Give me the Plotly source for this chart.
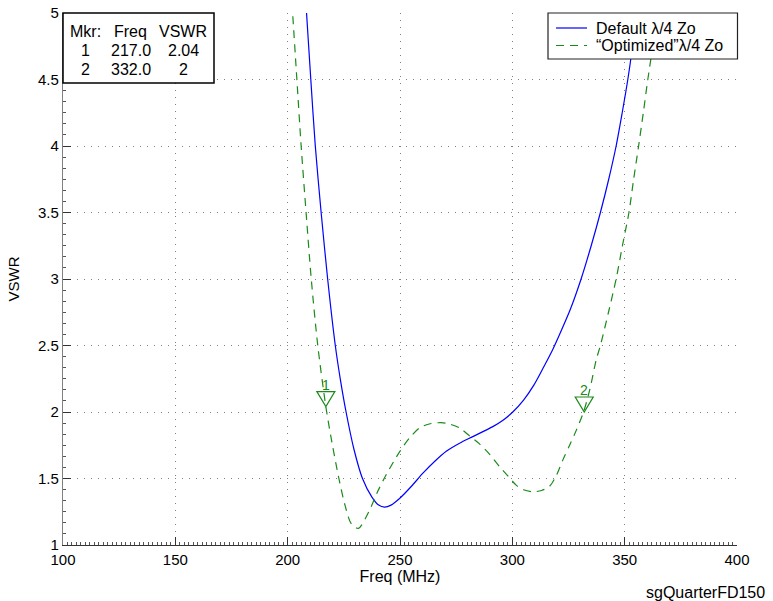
import plotly.graph_objects as go

# ---- data ----
freq_default = [206.5, 208.4, 210.3, 212.3, 214.9, 217.8, 221.2, 223.5, 226.0, 229.5, 233.3,
                237.5, 240.5, 243.1, 246.0, 249.8, 255.0, 260.2, 265.5, 270.6, 276.5, 282.4,
                291.3, 296.0, 300.2, 305.0, 309.5, 314.0, 318.0, 322.0, 326.0, 330.6, 335.1,
                339.2, 342.9, 346.2, 348.9, 351.4, 353.5, 355.3, 357.2]
vswr_default = [5.5, 5.0, 4.5, 4.0, 3.5, 3.0, 2.5, 2.24, 2.0, 1.72, 1.5,
                1.36, 1.30, 1.285, 1.30, 1.35, 1.44, 1.54, 1.63, 1.705, 1.765, 1.815,
                1.89, 1.94, 2.0, 2.09, 2.2, 2.34, 2.47, 2.62, 2.78, 3.0, 3.25,
                3.5, 3.75, 4.0, 4.25, 4.5, 4.75, 5.0, 5.3]

freq_opt = [200.2, 202.2, 204.1, 206.0, 208.2, 210.5, 213.4, 217.0, 219.4, 222.8, 225.5,
            228.3, 231.5, 236.4, 240.0, 243.9, 249.8, 254.0, 258.7, 263.0, 268.3, 272.0,
            276.5, 281.0, 285.4, 290.0, 294.3, 298.0, 301.7, 305.0, 309.1, 313.0, 316.5,
            319.5, 322.5, 325.5, 328.4, 331.7, 334.5, 337.3, 339.2, 342.8, 346.2, 349.0,
            351.9, 354.0, 356.2, 358.3, 360.3, 362.5, 364.5]
vswr_opt = [5.5, 5.0, 4.5, 4.0, 3.5, 3.0, 2.5, 2.04, 1.80, 1.50, 1.30,
            1.16, 1.125, 1.26, 1.40, 1.53, 1.70, 1.80, 1.88, 1.91, 1.92, 1.91,
            1.88, 1.82, 1.76, 1.68, 1.59, 1.52, 1.45, 1.415, 1.40, 1.41, 1.44,
            1.52, 1.64, 1.75, 1.86, 2.0, 2.17, 2.39, 2.5, 2.75, 3.0, 3.25,
            3.5, 3.75, 4.0, 4.25, 4.5, 4.75, 5.0]

mkr_ids = [1, 2]
mkr_freq = [217.0, 332.0]
mkr_vswr = [2.04, 2.0]

x_ticks = [100, 150, 200, 250, 300, 350, 400]
y_ticks = [1, 1.5, 2, 2.5, 3, 3.5, 4, 4.5, 5]

series_names = ["Default \u03bb/4 Zo", "\u201cOptimized\u201d\u03bb/4 Zo"]
footer_text = "sgQuarterFD150"

# ---- style ----
FONT = "Liberation Sans, Arial, sans-serif"
GREEN = "#1a8a1a"
BLUE = "#0000ff"
DASH = "8px,6px"
W, H = 773, 601
ML, MR, MT, MB = 63, 36, 13, 56
PW, PH = W - ML - MR, H - MT - MB


def px2paper_x(px):
    return (px - ML) / PW


def px2paper_y(py):
    return (H - MB - py) / PH


fig = go.Figure()
fig.add_trace(go.Scatter(x=freq_default, y=vswr_default, mode="lines", name=series_names[0],
                         line=dict(color=BLUE, width=1.2, shape="spline", smoothing=0.8)))
fig.add_trace(go.Scatter(x=freq_opt, y=vswr_opt, mode="lines", name=series_names[1],
                         line=dict(color=GREEN, width=1.2, dash=DASH, shape="spline",
                                   smoothing=0.8)))

# markers: open down-triangles with tip on the data point, and label above
for mid, mf, mv in zip(mkr_ids, mkr_freq, mkr_vswr):
    fig.add_shape(type="path", xref="x", yref="y", xsizemode="pixel", ysizemode="pixel",
                  xanchor=mf, yanchor=mv, path="M-9,15 L9,15 L0,0 Z",
                  line=dict(color=GREEN, width=1.2), fillcolor="rgba(0,0,0,0)")
    fig.add_annotation(x=mf, y=mv, xref="x", yref="y", text=str(mid), showarrow=False,
                       yshift=22, font=dict(family=FONT, size=14, color=GREEN))

# marker table
fig.add_shape(type="rect", xref="paper", yref="paper",
              x0=px2paper_x(63), x1=px2paper_x(214), y0=px2paper_y(83), y1=px2paper_y(13),
              line=dict(color="black", width=1.5), fillcolor="white", layer="above")
col_x = [px2paper_x(85), px2paper_x(130.5), px2paper_x(183)]
row_y = [px2paper_y(31), px2paper_y(50.5), px2paper_y(69.5)]
header = ["Mkr:", "Freq", "VSWR"]
rows = [header] + [[str(m), f"{f:.1f}", f"{v:g}"] for m, f, v in zip(mkr_ids, mkr_freq, mkr_vswr)]
for r, row in enumerate(rows):
    for c, txt in enumerate(row):
        fig.add_annotation(x=col_x[c], y=row_y[r], xref="paper", yref="paper", text=txt,
                           showarrow=False, xanchor="center", yanchor="middle",
                           font=dict(family=FONT, size=16, color="black"))

# legend box (drawn by hand to match the compact original)
fig.add_shape(type="rect", xref="paper", yref="paper",
              x0=px2paper_x(548), x1=px2paper_x(737.5), y0=px2paper_y(59), y1=px2paper_y(13),
              line=dict(color="#222222", width=1.2), fillcolor="white", layer="above")
leg_rows = [28, 45.5]
leg_styles = [dict(color=BLUE, width=1.2), dict(color=GREEN, width=1.2, dash=DASH)]
for name, ry, st in zip(series_names, leg_rows, leg_styles):
    fig.add_shape(type="line", xref="paper", yref="paper",
                  x0=px2paper_x(556), x1=px2paper_x(587), y0=px2paper_y(ry), y1=px2paper_y(ry),
                  line=st, layer="above")
    fig.add_annotation(x=px2paper_x(594), y=px2paper_y(ry), xref="paper", yref="paper",
                       text=name, showarrow=False, xanchor="left", yanchor="middle",
                       font=dict(family=FONT, size=16, color="black"))

fig.add_annotation(x=px2paper_x(767), y=px2paper_y(592), xref="paper", yref="paper",
                   text=footer_text, showarrow=False, xanchor="right", yanchor="middle",
                   font=dict(family=FONT, size=16, color="black"))

grid_common = dict(showgrid=True, gridcolor="#7f7f7f", griddash="1px,6px", gridwidth=1,
                   ticks="inside", ticklen=8, tickcolor="#333333", tickwidth=1,
                   showline=True, zeroline=False, mirror=False, automargin=False,
                   tickfont=dict(family=FONT, size=15, color="black"))

fig.update_xaxes(range=[100, 400], tickvals=x_ticks, ticktext=[str(t) for t in x_ticks],
                 linecolor="#333333", linewidth=1.2, ticklabelstandoff=1,
                 title=dict(text="Freq (MHz)", font=dict(family=FONT, size=16, color="black"),
                            standoff=3),
                 minor=dict(dtick=2, ticks="inside", ticklen=3, tickcolor="#555555", showgrid=False),
                 **grid_common)
fig.update_yaxes(range=[1, 5], tickvals=y_ticks, ticktext=[f"{t:g}" for t in y_ticks],
                 linecolor="#808080", linewidth=1.2,
                 title=dict(text="VSWR", font=dict(family=FONT, size=15, color="black"),
                            standoff=14),
                 minor=dict(dtick=0.5 / 6, ticks="inside", ticklen=3, tickcolor="#555555",
                            showgrid=False),
                 **grid_common)

fig.update_layout(
    width=W, height=H,
    margin=dict(l=ML, r=MR, t=MT, b=MB, autoexpand=False),
    paper_bgcolor="white", plot_bgcolor="white",
    font=dict(family=FONT, size=15, color="black"),
    showlegend=False,
)

fig.write_html("out.html")
